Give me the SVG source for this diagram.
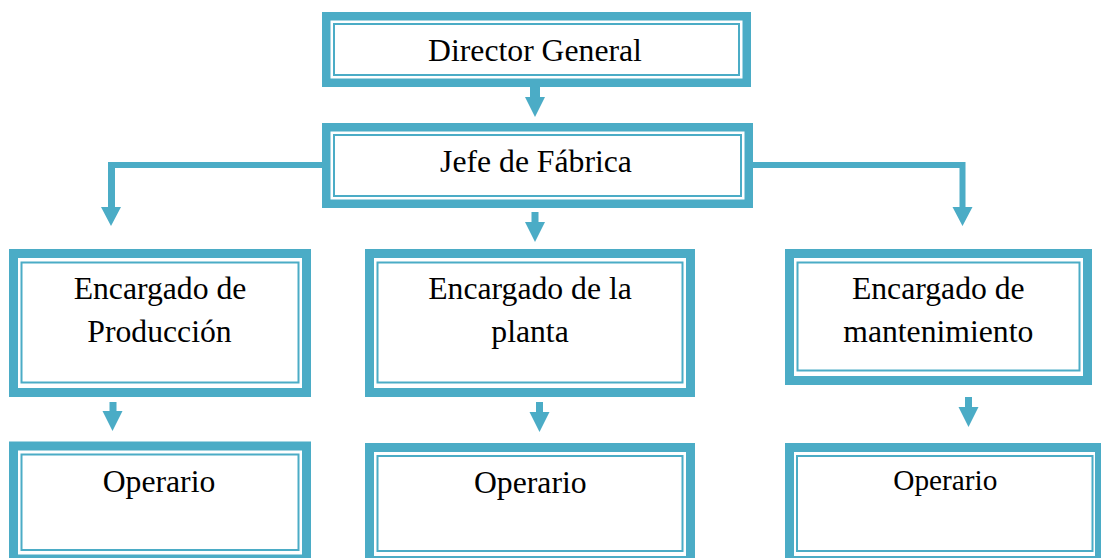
<svg xmlns="http://www.w3.org/2000/svg" width="1101" height="558" viewBox="0 0 1101 558">
<style>
.outer{fill:#fff;stroke:#4BACC6;stroke-width:9}
.inner{fill:none;stroke:#4BACC6;stroke-width:2}
.arr{fill:#4BACC6;stroke:none}
text{font-family:"Liberation Serif","Times New Roman",serif;font-size:31.7px;fill:#000;text-anchor:middle}
</style>
<rect width="1101" height="558" fill="#fff"/>
<g id="connectors">
<polygon class="arr" points="530,87 540,87 540,97 545,97 535,117 525,97 530,97"/>
<polygon class="arr" points="322,162 108,162 108,207 101,207 111,226 121,207 115,207 115,168 322,168"/>
<polygon class="arr" points="753,162 965.5,162 965.5,207 972.5,207 962.5,226 952.5,207 959.5,207 959.5,168 753,168"/>
<polygon class="arr" points="531.5,212 538.5,212 538.5,222 545,222 535,242 525,222 531.5,222"/>
<polygon class="arr" points="109.5,402 116.5,402 116.5,411 122.5,411 112.5,431 102.5,411 109.5,411"/>
<polygon class="arr" points="536,402 543,402 543,412 549.5,412 539.5,432 529.5,412 536,412"/>
<polygon class="arr" points="965,397 972,397 972,407 978.5,407 968.5,427 958.5,407 965,407"/>
</g>
<g id="director">
<rect class="outer" x="326.25" y="16.25" width="420.5" height="66.5" style="stroke-width:8.5"/>
<rect class="inner" x="334" y="24" width="405" height="51"/>
<text x="535" y="61">Director General</text>
</g>
<g id="jefe">
<rect class="outer" x="326.25" y="127.25" width="422.5" height="76.5" style="stroke-width:8.5"/>
<rect class="inner" x="334" y="135" width="407" height="61"/>
<text x="536" y="171.7">Jefe de Fábrica</text>
</g>
<g id="produccion">
<rect class="outer" x="13.5" y="253.5" width="293" height="139"/>
<rect class="inner" x="21.5" y="262.5" width="277" height="120"/>
<text x="160" y="299">Encargado de</text>
<text x="159.5" y="342.3">Producción</text>
</g>
<g id="planta">
<rect class="outer" x="369.5" y="253.5" width="321" height="139"/>
<rect class="inner" x="377.5" y="262.5" width="305" height="120"/>
<text x="530" y="299">Encargado de la</text>
<text x="530" y="341.7">planta</text>
</g>
<g id="mantenimiento">
<rect class="outer" x="789.5" y="253.5" width="298" height="127"/>
<rect class="inner" x="797.5" y="262.5" width="282" height="108"/>
<text x="938.3" y="299">Encargado de</text>
<text x="938.3" y="342.3">mantenimiento</text>
</g>
<g id="operario1">
<rect class="outer" x="13.5" y="446" width="293" height="113"/>
<rect class="inner" x="21.5" y="454.5" width="277" height="95.5"/>
<text x="159" y="491.7">Operario</text>
</g>
<g id="operario2">
<rect class="outer" x="369.5" y="447.5" width="321" height="113"/>
<rect class="inner" x="377.5" y="456" width="305" height="95"/>
<text x="530.3" y="493.3">Operario</text>
</g>
<g id="operario3">
<rect class="outer" x="789.5" y="447.5" width="310" height="113"/>
<rect class="inner" x="797" y="456" width="295.5" height="95"/>
<text x="945.3" y="490" style="font-size:29.3px">Operario</text>
</g>
</svg>
